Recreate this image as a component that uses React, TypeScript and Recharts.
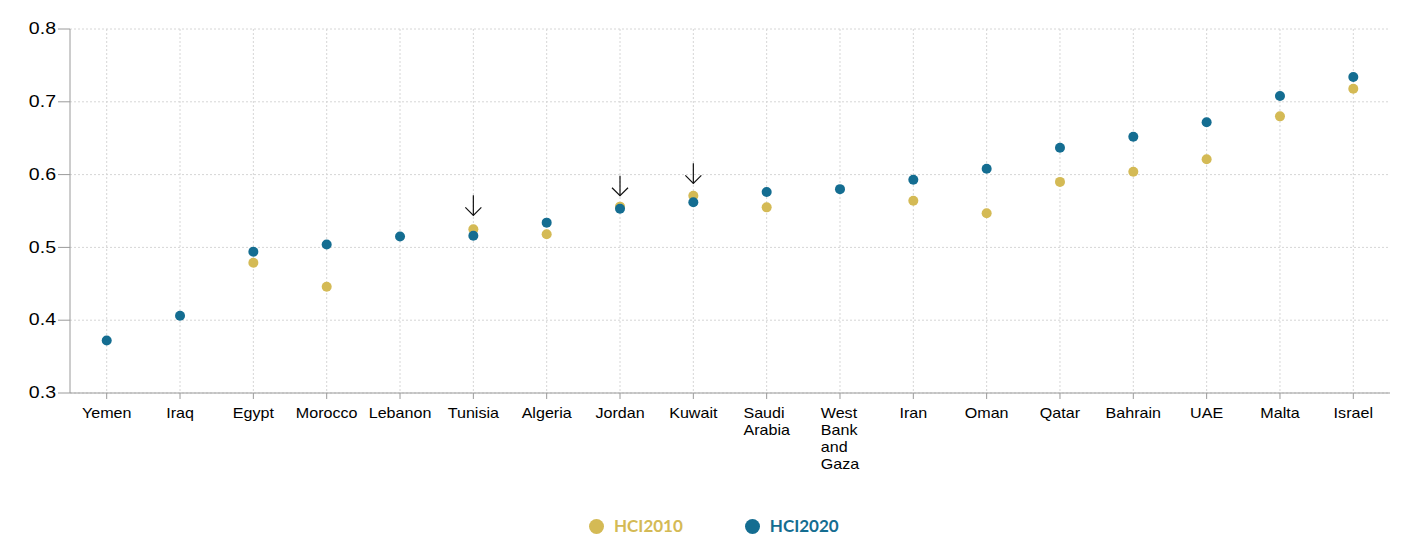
import React from 'react'
import { ComposedChart, Scatter, XAxis, YAxis, CartesianGrid, Legend } from 'recharts'

const countries = [
  'Yemen', 'Iraq', 'Egypt', 'Morocco', 'Lebanon', 'Tunisia', 'Algeria', 'Jordan', 'Kuwait',
  'Saudi Arabia', 'West Bank and Gaza', 'Iran', 'Oman', 'Qatar', 'Bahrain', 'UAE', 'Malta', 'Israel',
]
const hci2010 = [
  null, null, 0.479, 0.446, null, 0.525, 0.518, 0.556, 0.571,
  0.555, null, 0.564, 0.547, 0.590, 0.604, 0.621, 0.680, 0.718,
]
const hci2020 = [
  0.372, 0.406, 0.494, 0.504, 0.515, 0.516, 0.534, 0.553, 0.562,
  0.576, 0.580, 0.593, 0.608, 0.637, 0.652, 0.672, 0.708, 0.734,
]
// arrows point down at these values (tip of arrow)
const arrowTips = [
  null, null, null, null, null, 0.544, null, 0.571, 0.588,
  null, null, null, null, null, null, null, null, null,
]
const yTicks = [0.3, 0.4, 0.5, 0.6, 0.7, 0.8]

const GOLD = '#D4BA55'
const BLUE = '#146D91'
const STRETCH = 1.15
const TICK_FONT = '"Liberation Sans", Arial, sans-serif'
const X_PAD = 36.7

const rows = countries.map((c, i) => ({
  country: c,
  hci2010: hci2010[i],
  hci2020: hci2020[i],
  arrow: arrowTips[i],
}))

let ctx: CanvasRenderingContext2D | null = null
function textWidth(s: string) {
  if (!ctx) ctx = document.createElement('canvas').getContext('2d')
  if (!ctx) return s.length * 7
  ctx.font = `14px ${TICK_FONT}`
  return ctx.measureText(s).width
}

function wrap(label: string, maxW: number) {
  const words = label.split(' ')
  const lines: string[] = []
  let cur = ''
  for (const w of words) {
    const next = cur ? cur + ' ' + w : w
    if (cur && textWidth(next) > maxW) {
      lines.push(cur)
      cur = w
    } else cur = next
  }
  if (cur) lines.push(cur)
  return lines
}

function CountryTick({ x, y, payload }: any) {
  const lines = wrap(String(payload.value), 56)
  const maxW = Math.max(...lines.map(textWidth))
  return (
    <g transform={`translate(${x},${y}) scale(${STRETCH},1)`}>
      <text x={-maxW / 2} y={0} textAnchor="start" fontFamily={TICK_FONT} fontSize={14} fill="#000">
        {lines.map((l, i) => (
          <tspan key={i} x={-maxW / 2} y={17.5 + i * 16.7}>{l}</tspan>
        ))}
      </text>
    </g>
  )
}

function ValueTick({ x, y, payload }: any) {
  return (
    <g transform={`translate(${x},${y}) scale(${STRETCH},1)`}>
      <text x={0} y={0} dy="0.3em" textAnchor="end" fontFamily={TICK_FONT} fontSize={17} fill="#000">
        {Number(payload.value).toFixed(1)}
      </text>
    </g>
  )
}

const dot = (key: 'hci2010' | 'hci2020', color: string) => (props: any) => {
  if (props.payload?.[key] == null) return <g />
  return <circle cx={props.cx} cy={props.cy} r={5} fill={color} />
}

function Arrow(props: any) {
  if (props.payload?.arrow == null) return <g />
  const { cx, cy } = props
  return (
    <g stroke="#111" strokeWidth={1.2} fill="none">
      <line x1={cx} y1={cy - 20} x2={cx} y2={cy} />
      <polyline points={`${cx - 8},${cy - 8} ${cx},${cy} ${cx + 8},${cy - 8}`} />
    </g>
  )
}

// vertical grid only at the category positions (no line on the right edge)
function gridX({ offset }: any) {
  if (!offset) return []
  const n = countries.length
  const step = (offset.width - 2 * X_PAD) / (n - 1)
  return countries.map((_, i) => offset.left + X_PAD + i * step)
}

function LegendBox() {
  const item = (color: string, label: string, gap: number) => (
    <div style={{ display: 'flex', alignItems: 'center', marginRight: gap }}>
      <div style={{ width: 15, height: 15, borderRadius: '50%', background: color, marginRight: 10 }} />
      <span style={{ color, fontFamily: 'Lato, sans-serif', fontWeight: 700, fontSize: 17, lineHeight: '24px' }}>
        {label}
      </span>
    </div>
  )
  return (
    <div style={{ display: 'flex', alignItems: 'center' }}>
      {item(GOLD, 'HCI2010', 62)}
      {item(BLUE, 'HCI2020', 0)}
    </div>
  )
}

export default function App() {
  return (
    <div style={{ position: 'absolute', left: 0, top: 0, width: 1413, height: 555, background: '#fff' }}>
      <ComposedChart
        width={1413}
        height={555}
        data={rows}
        margin={{ top: 29, right: 23, bottom: 48, left: 0 }}
      >
        <CartesianGrid stroke="#d6d6d6" strokeDasharray="2 2" verticalCoordinatesGenerator={gridX} />
        <XAxis
          dataKey="country"
          type="category"
          interval={0}
          height={90}
          tickSize={6}
          tickMargin={2}
          padding={{ left: X_PAD, right: X_PAD }}
          stroke="#9a9a9a"
          tick={<CountryTick />}
        />
        <YAxis
          type="number"
          domain={[0.3, 0.8]}
          ticks={yTicks}
          width={70}
          tickSize={12}
          tickMargin={2}
          stroke="#9a9a9a"
          tick={<ValueTick />}
        />
        <Scatter dataKey="hci2010" shape={dot('hci2010', GOLD)} isAnimationActive={false} />
        <Scatter dataKey="hci2020" shape={dot('hci2020', BLUE)} isAnimationActive={false} />
        <Scatter dataKey="arrow" shape={<Arrow />} isAnimationActive={false} />
        <Legend
          content={<LegendBox />}
          wrapperStyle={{ position: 'absolute', left: 589, top: 514, width: 'auto', height: 24 }}
        />
      </ComposedChart>
    </div>
  )
}
